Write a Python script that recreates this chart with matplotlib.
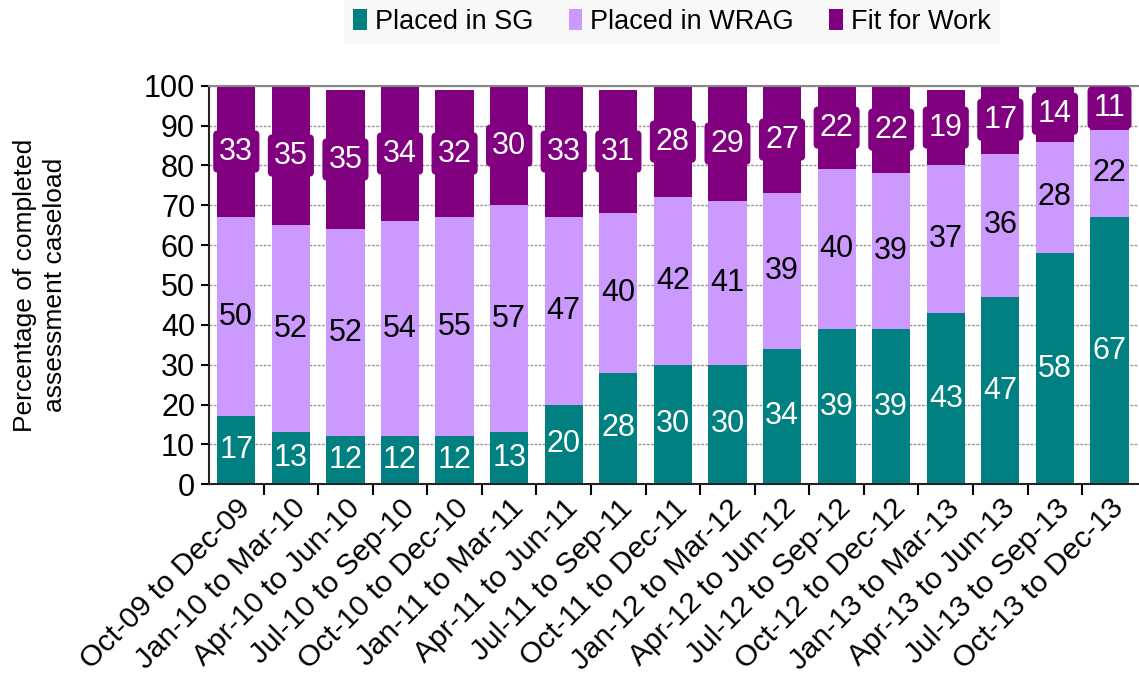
import numpy as np
import matplotlib.pyplot as plt

plt.rcParams['font.family'] = ['Liberation Sans', 'DejaVu Sans']

# data
periods = ['Oct-09 to Dec-09', 'Jan-10 to Mar-10', 'Apr-10 to Jun-10', 'Jul-10 to Sep-10',
           'Oct-10 to Dec-10', 'Jan-11 to Mar-11', 'Apr-11 to Jun-11', 'Jul-11 to Sep-11',
           'Oct-11 to Dec-11', 'Jan-12 to Mar-12', 'Apr-12 to Jun-12', 'Jul-12 to Sep-12',
           'Oct-12 to Dec-12', 'Jan-13 to Mar-13', 'Apr-13 to Jun-13', 'Jul-13 to Sep-13',
           'Oct-13 to Dec-13']
placed_sg = [17, 13, 12, 12, 12, 13, 20, 28, 30, 30, 34, 39, 39, 43, 47, 58, 67]
placed_wrag = [50, 52, 52, 54, 55, 57, 47, 40, 42, 41, 39, 40, 39, 37, 36, 28, 22]
fit_for_work = [33, 35, 35, 34, 32, 30, 33, 31, 28, 29, 27, 22, 22, 19, 17, 14, 11]

c_sg = '#008080'
c_wrag = '#CC99FF'
c_ffw = '#800080'

x = np.arange(len(periods))
sg = np.array(placed_sg)
wrag = np.array(placed_wrag)
ffw = np.array(fit_for_work)

fig = plt.figure(figsize=(11.39, 6.81), dpi=100)
ax = fig.add_axes([0.1835, 0.289, 0.816, 0.585])

w = 0.7
b1 = ax.bar(x, sg, w, color=c_sg, label='Placed in SG', zorder=2)
b2 = ax.bar(x, wrag, w, bottom=sg, color=c_wrag, label='Placed in WRAG', zorder=2)
b3 = ax.bar(x, ffw, w, bottom=sg + wrag, color=c_ffw, label='Fit for Work', zorder=2)

# value labels
for i in range(len(x)):
    ax.text(x[i], sg[i] / 2, str(sg[i]), ha='center', va='center',
            color='white', fontsize=22, zorder=4)
    ax.text(x[i], sg[i] + wrag[i] / 2, str(wrag[i]), ha='center', va='center',
            color='black', fontsize=22, zorder=4)
    top = min(sg[i] + wrag[i] + ffw[i], 100)
    ax.text(x[i], (sg[i] + wrag[i] + top) / 2, str(ffw[i]), ha='center', va='center',
            color='white', fontsize=22, zorder=4,
            bbox=dict(boxstyle='round,pad=0.2,rounding_size=0.15', fc=c_ffw, ec='none'))

ax.set_ylim(0, 100)
ax.set_xlim(-0.5, len(x) - 0.47)
ax.set_yticks(np.arange(0, 101, 10))
ax.tick_params(axis='y', labelsize=22, length=6, width=1.5, direction='out', pad=4)
ax.yaxis.grid(True, linestyle=(0, (2, 1)), color='#999999', linewidth=1, zorder=0)
ax.set_axisbelow(True)

# ticks between categories, labels under bar centres
ax.set_xticks(np.arange(len(x) - 1) + 0.5)
ax.set_xticklabels([])
ax.tick_params(axis='x', length=8, width=1.5, direction='out')
ax.set_xticks(x, minor=True)
ax.set_xticklabels(periods, minor=True, rotation=45, ha='right', rotation_mode='anchor',
                   fontsize=21.5)
ax.tick_params(axis='x', which='minor', length=0, pad=7)

ax.spines['right'].set_visible(False)
ax.spines['top'].set_color('#888888')
ax.spines['top'].set_linewidth(1.5)
ax.spines['left'].set_linewidth(1.5)
ax.spines['left'].set_color('#222222')
ax.spines['bottom'].set_linewidth(1.5)
ax.spines['bottom'].set_color('#222222')

ax.set_ylabel('Percentage of completed\nassessment caseload', fontsize=19,
              linespacing=1.3)
ax.yaxis.set_label_coords(-0.153, 0.5)

leg = fig.legend(handles=[b1, b2, b3], loc='center', bbox_to_anchor=(0.59, 0.968),
                 ncol=3, fontsize=19.5, frameon=True, handlelength=0.5, handleheight=0.85,
                 handletextpad=0.3, columnspacing=1.3, borderpad=0.35, fancybox=False)
leg.get_frame().set_facecolor('#f7f7f7')
leg.get_frame().set_edgecolor('none')

fig.savefig('out.png', dpi=100)
